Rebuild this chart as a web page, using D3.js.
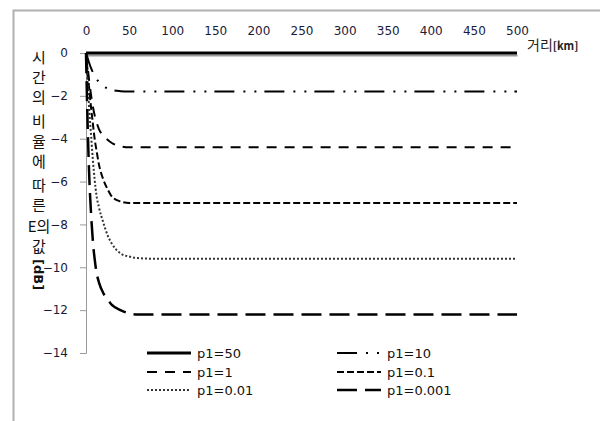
<!DOCTYPE html>
<html>
<head>
<meta charset="utf-8">
<script src="https://cdn.jsdelivr.net/npm/d3@7"></script>
<style>
body { margin: 0; background: #fff; }
</style>
</head>
<body>
<script>
// distance [km]
var dist = [0, 2, 4, 6, 8, 10, 12, 15, 20, 25, 30, 40, 50, 60, 80, 100, 500];
var p50   = [0, 0, 0, 0, 0, 0, 0, 0, 0, 0, 0, 0, 0, 0, 0, 0, 0];
var p10   = [0, -0.25, -0.5, -0.72, -0.9, -1.05, -1.2, -1.35, -1.55, -1.65, -1.72, -1.78, -1.8, -1.8, -1.8, -1.8, -1.8];
var p1    = [0, -0.7, -1.4, -2.0, -2.5, -2.9, -3.2, -3.55, -3.85, -4.05, -4.2, -4.35, -4.4, -4.4, -4.4, -4.4, -4.4];
var p01   = [0, -0.9, -1.8, -2.6, -3.3, -4.0, -4.5, -5.2, -5.9, -6.35, -6.7, -6.93, -7.0, -7.0, -7.0, -7.0, -7.0];
var p001  = [0, -1.5, -2.8, -3.9, -5.0, -5.9, -6.6, -7.2, -7.9, -8.5, -8.9, -9.35, -9.5, -9.57, -9.6, -9.6, -9.6];
var p0001 = [0, -3.5, -6.0, -7.6, -8.8, -9.6, -10.2, -10.7, -11.2, -11.5, -11.75, -12.0, -12.15, -12.2, -12.2, -12.2, -12.2];

var names = ["p1=50", "p1=10", "p1=1", "p1=0.1", "p1=0.01", "p1=0.001"];
var values = [p50, p10, p1, p01, p001, p0001];
var xTicks = [0, 50, 100, 150, 200, 250, 300, 350, 400, 450, 500];
var yTicks = [0, -2, -4, -6, -8, -10, -12, -14];

var styles = [
    {w: 3, dash: null, c: "#000"},
    {w: 2, dash: "20,9,2,9,2,8", c: "#000"},
    {w: 2, dash: "10,8", c: "#000"},
    {w: 2, dash: "7,3", c: "#000"},
    {w: 2, dash: "2,2", c: "#333"},
    {w: 2.5, dash: "20,8", c: "#000"}
];

var w = 600, h = 421;
var svg = d3.select("body")
    .append("svg")
    .attr("width", w)
    .attr("height", h);

// chart frame
svg.append("rect")
    .attr("x", 13.5).attr("y", 10.5)
    .attr("width", 620).attr("height", 430)
    .attr("fill", "none")
    .attr("stroke", "#b0b0b0")
    .attr("stroke-width", 2);

var x = d3.scaleLinear().domain([0, 500]).range([86, 517]);
var y = d3.scaleLinear().domain([-14, 0]).range([353, 53]);

// y axis
var yAxis = d3.axisLeft(y).tickValues(yTicks).tickSize(6).tickPadding(12);
var gy = svg.append("g")
    .attr("transform", "translate(86,0)")
    .call(yAxis);
gy.select(".domain").attr("stroke", "#999");
gy.selectAll(".tick line").attr("stroke", "#999");
gy.selectAll(".tick text")
    .attr("font-family", "DejaVu Sans, Verdana, sans-serif")
    .attr("font-size", "12px")
    .attr("fill", "#1a1a3a");

// x axis on top
var xAxis = d3.axisTop(x).tickValues(xTicks).tickSize(0).tickPadding(20);
var gx = svg.append("g")
    .attr("transform", "translate(0,55)")
    .call(xAxis);
gx.select(".domain").attr("stroke", "#999").attr("stroke-width", 2);
gx.selectAll(".tick text")
    .attr("font-family", "DejaVu Sans, Verdana, sans-serif")
    .attr("font-size", "12px")
    .attr("fill", "#1a1a3a");

// series
var line = d3.line()
    .x(function(d) { return x(d[0]); })
    .y(function(d) { return y(d[1]); })
    .curve(d3.curveMonotoneX);

svg.selectAll("path.series")
    .data(values)
    .enter()
    .append("path")
    .attr("class", "series")
    .attr("d", function(v) {
        return line(dist.map(function(k, i) { return [k, v[i]]; }));
    })
    .attr("fill", "none")
    .attr("stroke", function(v, i) { return styles[i].c; })
    .attr("stroke-width", function(v, i) { return styles[i].w; })
    .attr("stroke-dasharray", function(v, i) { return styles[i].dash; });

// x axis title
svg.append("text")
    .attr("x", 527).attr("y", 50)
    .attr("font-family", "Noto Sans CJK KR, sans-serif")
    .attr("font-size", "14px")
    .attr("fill", "#222")
    .text("거리")
  .append("tspan")
    .attr("font-size", "11px")
    .attr("font-weight", "bold")
    .text("[km]");

// y axis title, stacked
var yTitle = [
    ["시", 57], ["간", 77], ["의", 97], ["비", 121], ["율", 141], ["에", 161],
    ["따", 185], ["른", 205], ["E의", 226], ["값", 246]
];
svg.selectAll("text.ytitle")
    .data(yTitle)
    .enter()
    .append("text")
    .attr("class", "ytitle")
    .attr("x", 39)
    .attr("y", function(d) { return d[1] + 6; })
    .attr("text-anchor", "middle")
    .attr("font-family", "Noto Sans CJK KR, sans-serif")
    .attr("font-size", "15px")
    .attr("fill", "#111")
    .text(function(d) { return d[0]; });
svg.append("text")
    .attr("transform", "translate(34,259) rotate(90)")
    .attr("font-family", "DejaVu Sans, sans-serif")
    .attr("font-size", "13px")
    .attr("font-weight", "bold")
    .attr("fill", "#111")
    .text("[dB]");

// legend
var legPos = [[147, 353], [337, 353], [147, 372], [337, 372], [147, 390], [337, 390]];
var leg = svg.selectAll("g.leg")
    .data(names)
    .enter()
    .append("g")
    .attr("class", "leg")
    .attr("transform", function(d, i) { return "translate(" + legPos[i][0] + "," + legPos[i][1] + ")"; });
leg.append("line")
    .attr("x1", 0).attr("x2", 44)
    .attr("stroke", function(d, i) { return styles[i].c; })
    .attr("stroke-width", function(d, i) { return styles[i].w; })
    .attr("stroke-dasharray", function(d, i) { return styles[i].dash; });
leg.append("text")
    .attr("x", 50).attr("y", 5)
    .attr("font-family", "DejaVu Sans, Verdana, sans-serif")
    .attr("font-size", "13px")
    .attr("fill", "#111")
    .text(function(d) { return d; });
</script>
</body>
</html>
